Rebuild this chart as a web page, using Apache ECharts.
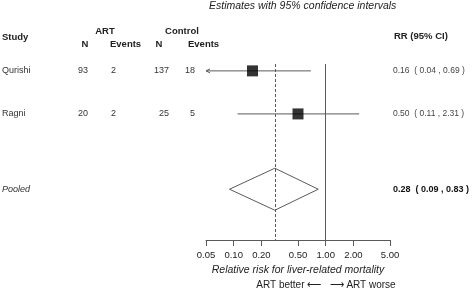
<!DOCTYPE html>
<html>
<head>
<meta charset="utf-8">
<script src="https://cdn.jsdelivr.net/npm/echarts@6/dist/echarts.min.js"></script>
<style>
  html, body { margin: 0; padding: 0; background: #fff; }
  #chart { width: 472px; height: 290px; }
</style>
</head>
<body>
<div id="chart"></div>
<script>
// study data
var studies = ['Qurishi', 'Ragni'];
var artN = [93, 20];
var artEvents = [2, 2];
var ctrlN = [137, 25];
var ctrlEvents = [18, 5];
var rr = [0.16, 0.50];
var rrLow = [0.04, 0.11];
var rrHigh = [0.69, 2.31];
var rowPos = [0, 1];

// pooled estimate
var pooledRR = 0.28;
var pooledLow = 0.09;
var pooledHigh = 0.83;
var pooledPos = 2.75;

var tickValues = [0.05, 0.1, 0.2, 0.5, 1, 2, 5];
var xMin = 0.05, xMax = 5;

var FONT = '"Liberation Sans", Arial, sans-serif';
var LINE = '#5a5a5a';
var TXT = '#333';

function ciText(e, l, h) {
    return e.toFixed(2) + '  ( ' + l.toFixed(2) + ' , ' + h.toFixed(2) + ' )';
}

var ciData = [], squareData = [], tableData = [];
for (var i = 0; i < studies.length; i++) {
    ciData.push([rrLow[i], rrHigh[i], rowPos[i]]);
    squareData.push([rr[i], rowPos[i]]);
    tableData.push([xMin, rowPos[i], i]);
}

function renderCI(params, api) {
    var lo = api.value(0), hi = api.value(1), y = api.value(2);
    var p1 = api.coord([Math.max(lo, xMin), y]);
    var p2 = api.coord([Math.min(hi, xMax), y]);
    var st = { stroke: LINE, lineWidth: 1, fill: null };
    var kids = [{ type: 'line', shape: { x1: p1[0], y1: p1[1], x2: p2[0], y2: p2[1] }, style: st }];
    // arrow when the interval runs past the axis
    if (lo < xMin) {
        kids.push({ type: 'polyline', shape: { points: [[p1[0] + 4, p1[1] - 2], [p1[0], p1[1]], [p1[0] + 4, p1[1] + 2]] }, style: st });
    }
    if (hi > xMax) {
        kids.push({ type: 'polyline', shape: { points: [[p2[0] - 4, p2[1] - 2], [p2[0], p2[1]], [p2[0] - 4, p2[1] + 2]] }, style: st });
    }
    return { type: 'group', children: kids };
}

function renderDiamond(params, api) {
    var l = api.coord([api.value(0), api.value(3)]);
    var c = api.coord([api.value(1), api.value(3)]);
    var r = api.coord([api.value(2), api.value(3)]);
    var h = 21;
    return {
        type: 'polygon',
        shape: { points: [[l[0], l[1]], [c[0], c[1] - h], [r[0], r[1]], [c[0], c[1] + h]] },
        style: { stroke: LINE, lineWidth: 1, fill: '#fff' }
    };
}

function txt(x, y, s, align, extra) {
    var style = { text: s, x: x, y: y, textAlign: align, textVerticalAlign: 'middle',
                  font: '9px ' + FONT, fill: TXT };
    for (var k in extra) style[k] = extra[k];
    return { type: 'text', style: style };
}

function renderTable(params, api) {
    var i = api.value(2);
    var y = api.coord([xMin, api.value(1)])[1];
    return {
        type: 'group',
        children: [
            txt(2, y, studies[i], 'left'),
            txt(88, y, String(artN[i]), 'right'),
            txt(116, y, String(artEvents[i]), 'right'),
            txt(169, y, String(ctrlN[i]), 'right'),
            txt(195, y, String(ctrlEvents[i]), 'right'),
            txt(393, y, ciText(rr[i], rrLow[i], rrHigh[i]), 'left', { font: '8.5px ' + FONT, fill: '#444' })
        ]
    };
}

function renderPooledText(params, api) {
    var y = api.coord([xMin, api.value(1)])[1];
    return {
        type: 'group',
        children: [
            txt(2, y, 'Pooled', 'left', { font: 'italic 9px ' + FONT }),
            txt(393, y, ciText(pooledRR, pooledLow, pooledHigh), 'left', { font: 'bold 9px ' + FONT, fill: '#111' })
        ]
    };
}

var chart = echarts.init(document.getElementById('chart'), null, { renderer: 'canvas' });

var option = {
    animation: false,
    backgroundColor: '#fff',
    title: {
        text: 'Estimates with 95% confidence intervals',
        left: 209, top: 1, padding: 0,
        textStyle: { fontFamily: FONT, fontSize: 10.5, fontStyle: 'italic', fontWeight: 'normal', color: '#222' }
    },
    grid: { left: 206, width: 184, top: 64, height: 176 },
    xAxis: {
        type: 'log', logBase: 10, min: xMin, max: xMax,
        name: 'Relative risk for liver-related mortality',
        nameLocation: 'middle', nameGap: 19,
        nameTextStyle: { fontFamily: FONT, fontSize: 10.5, fontStyle: 'italic', color: '#222' },
        axisLine: { show: true, onZero: false, lineStyle: { color: LINE, width: 1 } },
        axisTick: { show: true, inside: false, length: 6, customValues: tickValues, lineStyle: { color: LINE } },
        axisLabel: {
            customValues: tickValues, margin: 10,
            fontFamily: FONT, fontSize: 9.5, color: '#222',
            formatter: function (v) { return Number(v).toFixed(2); }
        },
        splitLine: { show: false },
        minorTick: { show: false }
    },
    yAxis: {
        type: 'value', inverse: true, min: -0.16, max: 3.93,
        show: false, splitLine: { show: false }
    },
    graphic: [
        { type: 'text', style: { text: 'Study', x: 2, y: 37, textVerticalAlign: 'middle', font: 'bold 9.5px ' + FONT, fill: '#222' } },
        { type: 'text', style: { text: 'ART', x: 105, y: 31, textAlign: 'center', textVerticalAlign: 'middle', font: 'bold 9.5px ' + FONT, fill: '#222' } },
        { type: 'text', style: { text: 'Control', x: 182, y: 31, textAlign: 'center', textVerticalAlign: 'middle', font: 'bold 9.5px ' + FONT, fill: '#222' } },
        { type: 'text', style: { text: 'N', x: 85, y: 44, textAlign: 'center', textVerticalAlign: 'middle', font: 'bold 9.5px ' + FONT, fill: '#222' } },
        { type: 'text', style: { text: 'Events', x: 110, y: 44, textVerticalAlign: 'middle', font: 'bold 9.5px ' + FONT, fill: '#222' } },
        { type: 'text', style: { text: 'N', x: 159, y: 44, textAlign: 'center', textVerticalAlign: 'middle', font: 'bold 9.5px ' + FONT, fill: '#222' } },
        { type: 'text', style: { text: 'Events', x: 188, y: 44, textVerticalAlign: 'middle', font: 'bold 9.5px ' + FONT, fill: '#222' } },
        { type: 'text', style: { text: 'RR (95% CI)', x: 394, y: 36, textVerticalAlign: 'middle', font: 'bold 9.5px ' + FONT, fill: '#222' } },
        { type: 'text', style: { text: 'ART better \u27F5   \u27F6 ART worse', x: 326, y: 285, textAlign: 'center', textVerticalAlign: 'middle', font: '10px ' + FONT, fill: '#222' } }
    ],
    series: [
        {
            type: 'custom', name: 'ci', renderItem: renderCI, data: ciData,
            encode: { x: [0, 1], y: 2 }, silent: true, z: 2
        },
        {
            type: 'scatter', name: 'rr', data: squareData, symbol: 'rect', symbolSize: 11,
            itemStyle: { color: '#000' }, z: 3, silent: true,
            markLine: {
                silent: true, symbol: 'none', label: { show: false },
                data: [
                    { xAxis: 1, lineStyle: { color: LINE, width: 1, type: 'solid' } },
                    { xAxis: pooledRR, lineStyle: { color: LINE, width: 1, type: [3, 2] } }
                ]
            }
        },
        {
            type: 'custom', name: 'pooled', renderItem: renderDiamond,
            data: [[pooledLow, pooledRR, pooledHigh, pooledPos]],
            encode: { x: [0, 1, 2], y: 3 }, silent: true, z: 1
        },
        {
            type: 'custom', name: 'table', renderItem: renderTable, data: tableData,
            encode: { x: 0, y: 1 }, silent: true, clip: false
        },
        {
            type: 'custom', name: 'pooledText', renderItem: renderPooledText,
            data: [[xMin, pooledPos]], encode: { x: 0, y: 1 }, silent: true, clip: false
        }
    ]
};
chart.setOption(option);
</script>
</body>
</html>
